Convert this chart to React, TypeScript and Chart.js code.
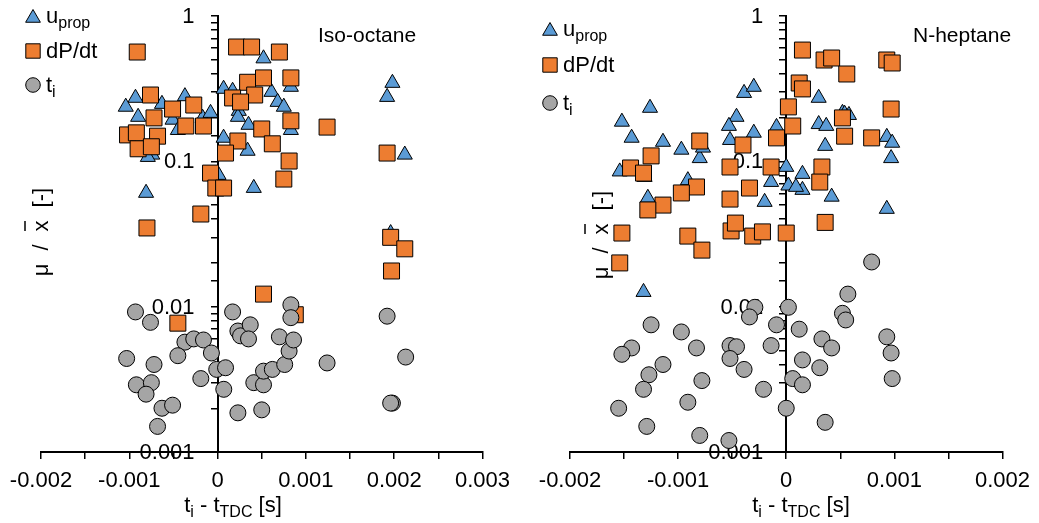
import React, { useEffect, useRef } from 'react';
import { Chart, registerables } from 'chart.js';

Chart.register(...registerables);

const FONT = '"Liberation Sans", Arial, Helvetica, sans-serif';
const BLUE = '#5B9BD5';
const ORANGE = '#ED7D31';
const GRAY = '#A5A5A5';

// ---------- Iso-octane ----------
const isoUpropX = [0.00052, 0.000068, 0.00017, 0.00061, 0.00083, -0.00093, -0.00037, -0.00104, -0.00063, 0.00068, 0.00075, 0.00024, 0.00023, -0.0009, -0.00051, -0.00017, -0.00008, 0.00035, 0.00083, -0.00045, 0.000068, 0.00034, -0.00074, -0.00079, 0.000011, 0.00041, -0.00081, 0.00198, 0.00192, 0.00212, 0.00196];
const isoUpropY = [0.51, 0.315, 0.305, 0.30, 0.325, 0.273, 0.28, 0.237, 0.248, 0.256, 0.237, 0.222, 0.202, 0.202, 0.193, 0.199, 0.215, 0.178, 0.164, 0.164, 0.145, 0.118, 0.111, 0.107, 0.0805, 0.0655, 0.0606, 0.346, 0.277, 0.111, 0.032];

const isoDpdtX = [-0.00091, 0.000215, 0.000385, 0.0007, 0.00034, 0.00052, 0.00083, -0.00076, 0.00042, 0.00017, 0.00026, -0.00051, -0.00027, -0.00072, -0.00036, -0.00016, 0.00083, -0.00102, -0.00092, -0.00068, 0.0005, -0.0009, -0.00075, 0.00023, 0.00062, 0.00009, 0.00081, -0.00008, -0.00002, 0.000068, 0.00075, 0.00124, 0.00192, 0.00196, 0.00212, -0.0008, -0.00019, -0.00045, 0.00052, 0.00088, 0.00197];
const isoDpdtY = [0.565, 0.612, 0.612, 0.565, 0.35, 0.375, 0.375, 0.286, 0.286, 0.273, 0.256, 0.229, 0.244, 0.199, 0.175, 0.175, 0.19, 0.152, 0.157, 0.149, 0.167, 0.122, 0.126, 0.138, 0.132, 0.114, 0.1005, 0.083, 0.0655, 0.0655, 0.0755, 0.172, 0.114, 0.030, 0.025, 0.0348, 0.0434, 0.0077, 0.0122, 0.0088, 0.0176];

const isoTiX = [-0.00093, -0.00076, -0.00037, -0.00027, -0.00016, -0.00007, -0.00103, -0.00072, -0.00045, -0.00001, 0.00009, -0.00019, -0.00092, -0.00075, -0.00081, -0.00063, -0.00051, -0.00068, 0.00017, 0.00023, 0.00026, 0.00037, 0.00035, 0.00007, 0.00023, 0.00041, 0.00052, 0.00052, 0.00062, 0.0005, 0.0007, 0.00076, 0.00081, 0.00086, 0.00083, 0.00083, 0.00124, 0.00192, 0.00213, 0.00198, 0.00196];
const isoTiY = [0.0092, 0.0078, 0.0057, 0.006, 0.0059, 0.0048, 0.0044, 0.004, 0.0046, 0.0037, 0.0038, 0.0032, 0.0029, 0.003, 0.0025, 0.002, 0.0021, 0.0015, 0.0092, 0.0068, 0.0063, 0.0075, 0.006, 0.0027, 0.00186, 0.003, 0.0029, 0.0036, 0.0037, 0.00195, 0.0062, 0.004, 0.00495, 0.0059, 0.0103, 0.0084, 0.0041, 0.0086, 0.0045, 0.00217, 0.00217];

// ---------- N-heptane ----------
const hepUpropX = [-0.00039, -0.0003, -0.00126, -0.00152, -0.00046, -0.00053, -0.0003, -0.00143, -0.00114, -0.00097, -0.00052, -0.0008, -0.00077, -0.00154, -0.00131, -0.00091, -0.00128, -0.0002, -0.00014, 0.0003, 0.00052, 0.00054, 0.00058, 0.0003, 0.00037, -0.00009, 0.00036, 0.00093, 0.00098, 0.00097, 0.0, 0.00015, 0.00002, 0.00015, 0.00042, 0.00093, 0.00009, -0.00132];
const hepUpropY = [0.295, 0.325, 0.233, 0.187, 0.202, 0.175, 0.157, 0.145, 0.136, 0.12, 0.14, 0.105, 0.124, 0.085, 0.078, 0.074, 0.056, 0.0525, 0.072, 0.273, 0.215, 0.212, 0.208, 0.18, 0.175, 0.172, 0.1275, 0.147, 0.134, 0.105, 0.0914, 0.0818, 0.068, 0.0635, 0.057, 0.047, 0.0666, 0.0126];

const hepDpdtX = [-0.0008, -0.0004, -0.00125, -0.00144, -0.00132, -0.00052, -0.00014, -0.00083, -0.00097, -0.00034, -0.00052, -0.00114, -0.00128, -0.00152, -0.00091, -0.00078, -0.00051, -0.00047, -0.00031, -0.00022, -0.00154, 0.00015, 0.00035, 0.00042, 0.00056, 0.00093, 0.00098, 0.00012, 0.00015, 0.00002, 0.00006, 0.00052, 0.00054, 0.00079, 0.00097, -0.00009, 0.00033, 0.00031, 0.00036, 0.0];
const hepDpdtY = [0.138, 0.1295, 0.109, 0.09, 0.083, 0.0914, 0.0914, 0.0666, 0.0606, 0.0655, 0.055, 0.05, 0.0463, 0.0321, 0.0306, 0.0245, 0.0332, 0.0376, 0.0306, 0.0327, 0.02, 0.583, 0.498, 0.514, 0.399, 0.498, 0.475, 0.346, 0.315, 0.237, 0.175, 0.199, 0.149, 0.145, 0.229, 0.145, 0.0914, 0.072, 0.038, 0.0321];

const hepTiX = [-0.00125, -0.00097, -0.00143, -0.00152, -0.00083, -0.00052, -0.00046, -0.00052, -0.00114, -0.00127, -0.00078, -0.00039, -0.00132, -0.00021, -0.00091, -0.00155, -0.00129, -0.0008, -0.00053, -0.00029, -0.00034, -0.00009, -0.00014, 0.00079, 0.00057, 0.00052, 0.00055, 0.00002, 0.00012, 0.00033, 0.00042, 0.00015, 0.00031, 0.00006, 0.00015, 0.0, 0.00036, 0.00093, 0.00097, 0.00098];
const hepTiY = [0.0075, 0.0067, 0.0052, 0.0047, 0.0052, 0.0054, 0.0053, 0.0044, 0.004, 0.0034, 0.0031, 0.0037, 0.0027, 0.0027, 0.0022, 0.002, 0.0015, 0.0013, 0.0012, 0.0099, 0.0085, 0.0075, 0.0054, 0.0203, 0.0122, 0.009, 0.0081, 0.0099, 0.007, 0.006, 0.0052, 0.0043, 0.0038, 0.0032, 0.0029, 0.002, 0.0016, 0.0062, 0.0048, 0.0032];

// ---------- axes ----------
const yTickValues = [1, 0.1, 0.01, 0.001];
const yTickLabels = ['1', '0.1', '0.01', '0.001'];
const isoXRange = [-0.002, 0.003];
const hepXRange = [-0.002, 0.002];

function pts(xs: number[], ys: number[]) {
  return xs.map((x, i) => ({ x, y: ys[i] }));
}

function drawMarker(ctx: CanvasRenderingContext2D, kind: string, x: number, y: number) {
  ctx.save();
  ctx.lineWidth = 1;
  ctx.strokeStyle = '#000';
  ctx.beginPath();
  if (kind === 'triangle') {
    const r = 8.5;
    ctx.moveTo(x, y - r);
    ctx.lineTo(x + r * 0.866, y + r * 0.5);
    ctx.lineTo(x - r * 0.866, y + r * 0.5);
    ctx.closePath();
    ctx.fillStyle = BLUE;
  } else if (kind === 'rect') {
    const s = 7.2;
    ctx.rect(x - s, y - s, 2 * s, 2 * s);
    ctx.fillStyle = ORANGE;
  } else {
    ctx.arc(x, y, 7.3, 0, Math.PI * 2);
    ctx.fillStyle = GRAY;
  }
  ctx.fill();
  ctx.stroke();
  ctx.restore();
}

type Part = [string, boolean];
function drawRich(ctx: CanvasRenderingContext2D, parts: Part[], x: number, y: number, center: boolean, size = 22, subSize = 16) {
  ctx.save();
  ctx.fillStyle = '#000';
  ctx.textBaseline = 'alphabetic';
  ctx.textAlign = 'left';
  let total = 0;
  parts.forEach(([t, sub]) => {
    ctx.font = `${sub ? subSize : size}px ${FONT}`;
    total += ctx.measureText(t).width;
  });
  let cx = center ? x - total / 2 : x;
  parts.forEach(([t, sub]) => {
    ctx.font = `${sub ? subSize : size}px ${FONT}`;
    ctx.fillText(t, cx, sub ? y + 5 : y);
    cx += ctx.measureText(t).width;
  });
  ctx.restore();
}

type PanelCfg = {
  left: number;
  width: number;
  padLeft: number;
  padRight: number;
  xRange: number[];
  title: string;
  titleX: number;
  legendX: number;
  legendTextX: number;
  legendY: number[];
  yTitleX: number;
  yTitleY: number;
  xTitleX: number;
  upX: number[];
  upY: number[];
  dpX: number[];
  dpY: number[];
  tiX: number[];
  tiY: number[];
};

function Panel({ cfg }: { cfg: PanelCfg }) {
  const ref = useRef<HTMLCanvasElement>(null);
  useEffect(() => {
    const overlay = {
      id: 'overlay',
      beforeDatasetsDraw(chart: any) {
        const ctx = chart.ctx as CanvasRenderingContext2D;
        const xs = chart.scales.x;
        const ys = chart.scales.y;
        const ax = xs.getPixelForValue(0);
        ctx.save();
        ctx.font = `22px ${FONT}`;
        ctx.fillStyle = '#000';
        ctx.textAlign = 'right';
        ctx.textBaseline = 'middle';
        yTickValues.forEach((v, i) => {
          ctx.fillText(yTickLabels[i], ax - 23, ys.getPixelForValue(v) + 1);
        });
        ctx.restore();
      },
      afterDraw(chart: any) {
        const ctx = chart.ctx as CanvasRenderingContext2D;
        // legend
        const kinds = ['triangle', 'rect', 'circle'];
        kinds.forEach((k, i) => {
          const cy = cfg.legendY[i];
          drawMarker(ctx, k, cfg.legendX, k === 'triangle' ? cy + 2 : cy);
        });
        drawRich(ctx, [['u', false], ['prop', true]], cfg.legendTextX, cfg.legendY[0] + 7, false);
        drawRich(ctx, [['dP/dt', false]], cfg.legendTextX, cfg.legendY[1] + 7, false);
        drawRich(ctx, [['t', false], ['i', true]], cfg.legendTextX, cfg.legendY[2] + 7, false);
        // panel title
        ctx.save();
        ctx.font = `21px ${FONT}`;
        ctx.fillStyle = '#000';
        ctx.textAlign = 'left';
        ctx.textBaseline = 'alphabetic';
        ctx.fillText(cfg.title, cfg.titleX, 42);
        ctx.restore();
        // x title
        drawRich(ctx, [['t', false], ['i', true], [' - t', false], ['TDC', true], [' [s]', false]], cfg.xTitleX, 512, true);
        // y title (rotated)
        ctx.save();
        ctx.translate(cfg.yTitleX, cfg.yTitleY);
        ctx.rotate(-Math.PI / 2);
        ctx.font = `22px ${FONT}`;
        ctx.fillStyle = '#000';
        ctx.strokeStyle = '#000';
        ctx.textBaseline = 'alphabetic';
        ctx.textAlign = 'left';
        const pieces = ['μ', '/', 'x', '[-]'];
        const gap = 13;
        const widths = pieces.map((p) => ctx.measureText(p).width);
        const total = widths.reduce((a, b) => a + b, 0) + gap * (pieces.length - 1);
        let px = -total / 2;
        const base = 8;
        pieces.forEach((p, i) => {
          ctx.fillText(p, px, base);
          if (p === 'x') {
            ctx.lineWidth = 1.5;
            ctx.beginPath();
            ctx.moveTo(px + 0.5, base - 23);
            ctx.lineTo(px + widths[i] - 0.5, base - 23);
            ctx.stroke();
          }
          px += widths[i] + gap;
        });
        ctx.restore();
      },
    };

    const chart = new Chart(ref.current as HTMLCanvasElement, {
      type: 'scatter',
      data: {
        datasets: [
          {
            label: 'ti',
            data: pts(cfg.tiX, cfg.tiY),
            pointStyle: 'circle',
            pointRadius: 8,
            backgroundColor: GRAY,
            borderColor: '#000',
            borderWidth: 1,
            order: 0,
          },
          {
            label: 'dP/dt',
            data: pts(cfg.dpX, cfg.dpY),
            pointStyle: 'rect',
            pointRadius: 11.3,
            backgroundColor: ORANGE,
            borderColor: '#000',
            borderWidth: 1,
            order: 1,
          },
          {
            label: 'uprop',
            data: pts(cfg.upX, cfg.upY),
            pointStyle: 'triangle',
            pointRadius: 8.7,
            backgroundColor: BLUE,
            borderColor: '#000',
            borderWidth: 1,
            order: 2,
          },
        ],
      },
      options: {
        responsive: false,
        devicePixelRatio: 1,
        animation: false,
        events: [],
        layout: { padding: { left: cfg.padLeft, right: cfg.padRight, top: 16, bottom: 0 } },
        plugins: { legend: { display: false }, tooltip: { enabled: false } },
        scales: {
          x: {
            type: 'linear',
            position: 'bottom',
            min: cfg.xRange[0],
            max: cfg.xRange[1],
            afterFit: (s: any) => {
              s.height = 71;
            },
            border: { display: true, color: '#000', width: 2 },
            grid: { display: true, drawOnChartArea: false, drawTicks: true, tickLength: 7, color: '#000', lineWidth: 1.5 },
            ticks: {
              stepSize: 0.0005,
              autoSkip: false,
              maxRotation: 0,
              minRotation: 0,
              padding: 9,
              color: '#000',
              font: { family: FONT, size: 22 },
              callback: (v: any) => {
                const r = Math.round(Number(v) * 10000);
                if (r % 10 !== 0) return '';
                return String(r / 10000);
              },
            },
          },
          y: {
            type: 'logarithmic',
            min: 0.001,
            max: 1,
            position: { x: 0 } as any,
            border: { display: true, color: '#000', width: 2 },
            grid: { display: true, drawOnChartArea: false, drawTicks: true, tickLength: 6, color: '#000', lineWidth: 1.5 },
            ticks: { display: false, autoSkip: false },
          },
        },
      } as any,
      plugins: [overlay],
    });
    return () => chart.destroy();
  }, []);
  return (
    <canvas
      ref={ref}
      width={cfg.width}
      height={523}
      style={{ position: 'absolute', left: cfg.left, top: 0, width: cfg.width, height: 523, display: 'block' }}
    />
  );
}

const isoCfg: PanelCfg = {
  left: 0,
  width: 519,
  padLeft: 41,
  padRight: 36,
  xRange: isoXRange,
  title: 'Iso-octane',
  titleX: 318,
  legendX: 33,
  legendTextX: 46,
  legendY: [16, 51, 85],
  yTitleX: 40,
  yTitleY: 232,
  xTitleX: 233,
  upX: isoUpropX,
  upY: isoUpropY,
  dpX: isoDpdtX,
  dpY: isoDpdtY,
  tiX: isoTiX,
  tiY: isoTiY,
};

const hepCfg: PanelCfg = {
  left: 519,
  width: 520,
  padLeft: 51,
  padRight: 34,
  xRange: hepXRange,
  title: 'N-heptane',
  titleX: 394,
  legendX: 31,
  legendTextX: 44,
  legendY: [29, 65, 103],
  yTitleX: 81,
  yTitleY: 235,
  xTitleX: 282,
  upX: hepUpropX,
  upY: hepUpropY,
  dpX: hepDpdtX,
  dpY: hepDpdtY,
  tiX: hepTiX,
  tiY: hepTiY,
};

export default function App() {
  return (
    <div style={{ position: 'absolute', left: 0, top: 0, width: 1039, height: 523, background: '#fff', overflow: 'hidden' }}>
      <Panel cfg={isoCfg} />
      <Panel cfg={hepCfg} />
    </div>
  );
}
